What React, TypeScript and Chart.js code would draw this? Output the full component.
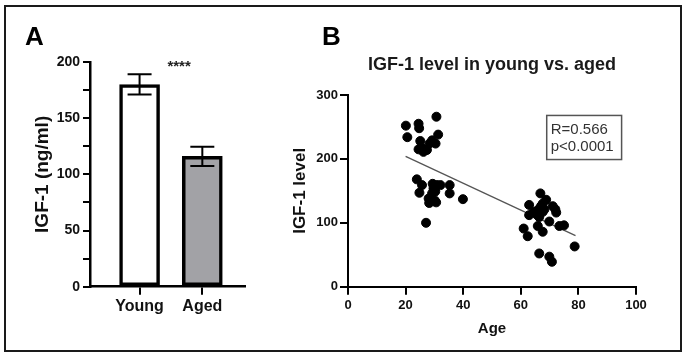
import React, { useEffect, useRef } from 'react';
import { Chart, registerables } from 'chart.js';

Chart.register(...registerables);

const FONT = "'Liberation Sans', Arial, Helvetica, sans-serif";

// ---- Panel A: bar chart data ----
const groups = ['Young', 'Aged'];
const groupMeans = [180, 116];
const groupErrors = [9, 8.5];
const groupFills = ['#ffffff', '#a2a2a6'];
const significance = '****';

// ---- Panel B: scatter data ----
const youngAges = [20.1, 20.6, 24.5, 24.7, 30.7, 31.3, 25.1, 25.7, 24.5, 26.2, 27.4, 29.2, 28.3, 30.4, 23.9, 25.7, 24.8, 29.4, 30.9, 32.1, 29.7, 30.3, 29.2, 28.0, 30.1, 28.2, 30.6, 35.3, 35.3, 39.9, 27.1];
const youngLevels = [252, 234, 255, 248, 266, 238, 228, 217, 215, 211, 214, 229, 224, 224, 168, 159, 147, 161, 159, 159, 154, 149, 146, 138, 135, 131, 132, 159, 146, 137, 100];
const agedAges = [66.8, 62.9, 68.8, 67.0, 65.9, 67.6, 66.4, 71.1, 72.0, 72.3, 62.9, 69.9, 65.9, 67.6, 61.0, 62.4, 73.4, 75.0, 78.7, 66.4, 69.9, 70.8, 67.6, 68.2, 65.5, 64.5];
const agedLevels = [146, 128, 136, 126, 120, 117, 109, 126, 121, 116, 112, 102, 95, 86, 91, 79, 95, 96, 63, 52, 47, 39, 130, 121, 113, 117];
const fitAges = [20, 79];
const fitLevels = [204, 80];
const statLines = ['R=0.566', 'p<0.0001'];
const chartTitle = 'IGF-1 level in young vs. aged';

const errorBarPlugin = {
  id: 'errorBars',
  afterDatasetsDraw(chart: any) {
    const ctx = chart.ctx;
    const meta = chart.getDatasetMeta(0);
    const ys = chart.scales.y;
    const xs = chart.scales.x;
    ctx.save();
    ctx.strokeStyle = '#000';
    ctx.lineWidth = 2;
    meta.data.forEach((bar: any, i: number) => {
      const x = bar.x;
      const top = ys.getPixelForValue(groupMeans[i] + groupErrors[i]);
      const bot = ys.getPixelForValue(groupMeans[i] - groupErrors[i]);
      ctx.beginPath();
      ctx.moveTo(x, top);
      ctx.lineTo(x, bot);
      ctx.moveTo(x - 12, top);
      ctx.lineTo(x + 12, top);
      ctx.moveTo(x - 12, bot);
      ctx.lineTo(x + 12, bot);
      ctx.stroke();
    });
    ctx.fillStyle = '#222';
    ctx.font = `bold 15px ${FONT}`;
    ctx.textAlign = 'center';
    ctx.textBaseline = 'alphabetic';
    ctx.fillText(significance, xs.getPixelForValue(1.63), ys.getPixelForValue(200) + 9);
    ctx.fillStyle = '#000';
    ctx.font = `bold 26px ${FONT}`;
    ctx.textAlign = 'left';
    ctx.fillText('A', 25, 45);
    ctx.restore();
  },
};

const annotPlugin = {
  id: 'annot',
  afterDraw(chart: any) {
    const ctx = chart.ctx;
    const xs = chart.scales.x;
    const ys = chart.scales.y;
    const area = chart.chartArea;
    ctx.save();
    ctx.fillStyle = '#000';
    ctx.font = `bold 26px ${FONT}`;
    ctx.textAlign = 'left';
    ctx.textBaseline = 'alphabetic';
    ctx.fillText('B', 42, 45);
    ctx.fillStyle = '#1a1a1a';
    ctx.font = `bold 18px ${FONT}`;
    ctx.textAlign = 'center';
    ctx.textBaseline = 'middle';
    ctx.fillText(chartTitle, (area.left + area.right) / 2, area.top - 30);
    const bx0 = xs.getPixelForValue(69);
    const bx1 = xs.getPixelForValue(95);
    const by0 = ys.getPixelForValue(268);
    const by1 = ys.getPixelForValue(199);
    ctx.strokeStyle = '#555';
    ctx.lineWidth = 1.5;
    ctx.strokeRect(bx0, by0, bx1 - bx0, by1 - by0);
    ctx.fillStyle = '#333';
    ctx.font = `15px ${FONT}`;
    ctx.textAlign = 'left';
    ctx.textBaseline = 'middle';
    ctx.fillText(statLines[0], bx0 + 4, by0 + 14);
    ctx.fillText(statLines[1], bx0 + 4, by0 + 31.5);
    ctx.restore();
  },
};

export default function App() {
  const barRef = useRef<HTMLCanvasElement>(null);
  const scatRef = useRef<HTMLCanvasElement>(null);

  useEffect(() => {
    Chart.defaults.font.family = FONT;
    const barChart = new Chart(barRef.current as HTMLCanvasElement, {
      type: 'bar',
      data: {
        datasets: [
          {
            data: groups.map((g, i) => ({ x: i + 1, y: groupMeans[i] })),
            backgroundColor: groupFills,
            borderColor: '#000',
            borderWidth: 3.5,
            borderSkipped: false,
            barThickness: 40,
          } as any,
        ],
      },
      options: {
        animation: false,
        responsive: false,
        layout: { padding: { left: 31, right: 35, top: 62, bottom: 0 } },
        plugins: { legend: { display: false }, tooltip: { enabled: false } },
        scales: {
          x: {
            type: 'linear',
            min: 0.21,
            max: 2.68,
            offset: false,
            bounds: 'data',
            afterBuildTicks: (s: any) => {
              s.ticks = groups.map((_, i) => ({ value: i + 1 }));
            },
            afterFit: (s: any) => {
              s.height = 73.3;
            },
            ticks: {
              autoSkip: false,
              maxRotation: 0,
              padding: 2,
              color: '#111',
              font: { size: 16, weight: 'bold' },
              callback: (v: any, i: number) => groups[i],
            },
            grid: { offset: false, drawOnChartArea: false, tickLength: 8, color: '#000', lineWidth: 2 },
            border: { color: '#000', width: 2.5 },
          },
          y: {
            min: 0,
            max: 200,
            afterFit: (s: any) => {
              s.width = 59;
            },
            ticks: {
              stepSize: 25,
              padding: 3,
              color: '#111',
              font: { size: 14, weight: 'bold' },
              callback: (v: any) => (Number(v) % 50 === 0 ? String(v) : ''),
            },
            grid: { drawOnChartArea: false, tickLength: 7, color: '#000', lineWidth: 2 },
            border: { color: '#000', width: 2.5 },
            title: {
              display: true,
              text: 'IGF-1 (ng/ml)',
              color: '#111',
              font: { size: 19, weight: 'bold' },
              padding: { top: 0, bottom: 4 },
            },
          },
        },
      } as any,
      plugins: [errorBarPlugin],
    });

    const points = [
      ...youngAges.map((a, i) => ({ x: a, y: youngLevels[i] })),
      ...agedAges.map((a, i) => ({ x: a, y: agedLevels[i] })),
    ];
    const scatChart = new Chart(scatRef.current as HTMLCanvasElement, {
      type: 'scatter',
      data: {
        datasets: [
          {
            type: 'line',
            data: fitAges.map((a, i) => ({ x: a, y: fitLevels[i] })),
            borderColor: '#555',
            borderWidth: 1.3,
            pointRadius: 0,
            fill: false,
            order: 2,
          } as any,
          {
            data: points,
            backgroundColor: '#000',
            borderColor: '#000',
            pointRadius: 4.5,
            order: 1,
          },
        ],
      },
      options: {
        animation: false,
        responsive: false,
        layout: { padding: { left: 10, right: 49, top: 95, bottom: 22 } },
        plugins: { legend: { display: false }, tooltip: { enabled: false } },
        scales: {
          x: {
            type: 'linear',
            min: 0,
            max: 100,
            afterFit: (s: any) => {
              s.height = 51.3;
            },
            ticks: { stepSize: 20, padding: 3, color: '#111', font: { size: 13, weight: 'bold' }, maxRotation: 0 },
            grid: { drawOnChartArea: false, tickLength: 8, color: '#000', lineWidth: 2 },
            border: { color: '#000', width: 2 },
            title: {
              display: true,
              text: 'Age',
              color: '#111',
              font: { size: 15, weight: 'bold' },
              padding: { top: 6, bottom: 0 },
            },
          },
          y: {
            min: 0,
            max: 300,
            afterFit: (s: any) => {
              s.width = 58;
            },
            ticks: { stepSize: 100, padding: 2, color: '#111', font: { size: 13, weight: 'bold' } },
            grid: { drawOnChartArea: false, tickLength: 8, color: '#000', lineWidth: 2 },
            border: { color: '#000', width: 2 },
            title: {
              display: true,
              text: 'IGF-1 level',
              color: '#111',
              font: { size: 17, weight: 'bold' },
              padding: { top: 0, bottom: 4 },
            },
          },
        },
      } as any,
      plugins: [annotPlugin],
    });

    return () => {
      barChart.destroy();
      scatChart.destroy();
    };
  }, []);

  return (
    <div style={{ position: 'absolute', left: 0, top: 0, width: 685, height: 360, background: '#fff', overflow: 'hidden' }}>
      <canvas ref={barRef} width={280} height={360} style={{ position: 'absolute', left: 0, top: 0, display: 'block' }} />
      <canvas ref={scatRef} width={405} height={360} style={{ position: 'absolute', left: 280, top: 0, display: 'block' }} />
      <div
        style={{
          position: 'absolute',
          left: 4,
          top: 5,
          width: 678,
          height: 347,
          boxSizing: 'border-box',
          border: '2px solid #1a1a1a',
          pointerEvents: 'none',
        }}
      />
    </div>
  );
}
